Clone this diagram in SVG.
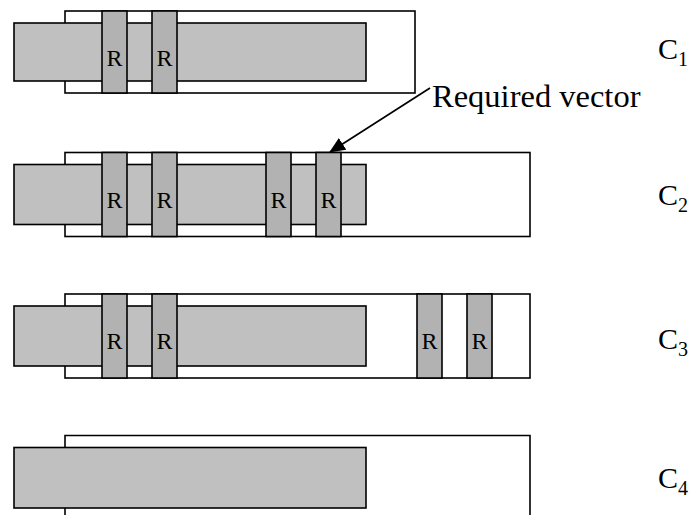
<svg xmlns="http://www.w3.org/2000/svg" width="692" height="515" viewBox="0 0 692 515">
<style>
.outer{fill:#fff;stroke:#000;stroke-width:1.6}
.inner{fill:#c0c0c0;stroke:#000;stroke-width:1.6}
.bar{fill:#b2b2b2;stroke:#000;stroke-width:1.6}
.r{font-family:"Liberation Serif",serif;font-size:24px;text-anchor:middle;fill:#000}
.lbl{font-family:"Liberation Serif",serif;font-size:30px;fill:#000}
.sub{font-size:20px}
</style>
<defs>
<marker id="ah" markerWidth="16" markerHeight="14" refX="15" refY="7" orient="auto" markerUnits="userSpaceOnUse">
<path d="M0,0 L16,7 L0,14 Z" fill="#000"/>
</marker>
</defs>
<g id="c1">
<rect class="outer" x="65" y="11" width="350" height="82"/>
<rect class="inner" x="14" y="23" width="352" height="58"/>
<rect class="bar" x="102" y="11" width="25" height="82"/>
<rect class="bar" x="152" y="11" width="25" height="82"/>
<text class="r" x="114.5" y="66">R</text>
<text class="r" x="164.5" y="66">R</text>
<text class="lbl" x="658" y="59">C<tspan class="sub" dy="7">1</tspan></text>
</g>
<g id="c2">
<rect class="outer" x="65" y="152.5" width="465" height="84"/>
<rect class="inner" x="14" y="164.5" width="352" height="60"/>
<rect class="bar" x="102" y="152.5" width="25" height="84"/>
<rect class="bar" x="152" y="152.5" width="25" height="84"/>
<rect class="bar" x="266" y="152.5" width="25" height="84"/>
<rect class="bar" x="316" y="152.5" width="25" height="84"/>
<text class="r" x="114.5" y="208">R</text>
<text class="r" x="164.5" y="208">R</text>
<text class="r" x="278.5" y="208">R</text>
<text class="r" x="328.5" y="208">R</text>
<text class="lbl" x="658" y="205">C<tspan class="sub" dy="7">2</tspan></text>
</g>
<g id="c3">
<rect class="outer" x="65" y="294" width="465" height="84"/>
<rect class="inner" x="14" y="306" width="352" height="60"/>
<rect class="bar" x="102" y="294" width="25" height="84"/>
<rect class="bar" x="152" y="294" width="25" height="84"/>
<rect class="bar" x="417" y="294" width="25" height="84"/>
<rect class="bar" x="467" y="294" width="25" height="84"/>
<text class="r" x="114.5" y="349">R</text>
<text class="r" x="164.5" y="349">R</text>
<text class="r" x="429.5" y="349">R</text>
<text class="r" x="479.5" y="349">R</text>
<text class="lbl" x="658" y="349">C<tspan class="sub" dy="7">3</tspan></text>
</g>
<g id="c4">
<path class="outer" d="M65,516 V435.5 H530 V516"/>
<rect class="inner" x="14" y="447.5" width="352" height="60.5"/>
<text class="lbl" x="658" y="488">C<tspan class="sub" dy="7">4</tspan></text>
</g>
<g id="annotation">
<text class="lbl" x="432" y="107" style="font-size:32.5px">Required vector</text>
</g>
<g id="connectors">
<line x1="430" y1="88" x2="330" y2="152" stroke="#000" stroke-width="1.6" marker-end="url(#ah)"/>
</g>
</svg>
